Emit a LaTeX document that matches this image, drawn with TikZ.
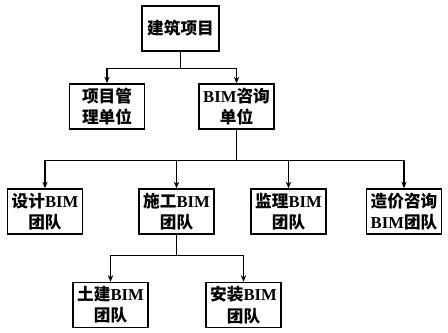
\documentclass[tikz,border=0pt]{standalone}
\usepackage{fontspec}
\setmainfont{Liberation Serif}
\newfontfamily\cjk{Noto Sans CJK SC}
\usetikzlibrary{arrows.meta}
\newcommand\zh[1]{{\cjk #1}}

\tikzset{
    unit/.style={rectangle, draw, line width=1pt, minimum width=56.25pt, minimum height=33.75pt,
        align=center, inner sep=1pt, font=\fontsize{12.5}{16}\selectfont\bfseries},
    link/.style={line width=1pt, -{Stealth[length=5pt,width=4pt]}}
}

\begin{document}
\begin{tikzpicture}[x=0.75pt, y=-0.75pt]
    \useasboundingbox (0,0) rectangle (448,332);
    \node[unit, minimum width=57.75pt] (project) at (180.5,28.5) {\zh{建筑项目}};
    \node[unit] (manage) at (107,106.5) {\zh{项目管}\\\zh{理单位}};
    \node[unit] (consult) at (236.5,106.5) {BIM\zh{咨询}\\\zh{单位}};

    \node[unit] (design) at (45,211.5) {\zh{设计}BIM\\\zh{团队}};
    \node[unit] (build) at (176.5,211.5) {\zh{施工}BIM\\\zh{团队}};
    \node[unit] (supervise) at (288.5,211.5) {\zh{监理}BIM\\\zh{团队}};
    \node[unit] (cost) at (404,211.5) {\zh{造价咨询}\\BIM\zh{团队}};

    \node[unit] (civil) at (110.5,305) {\zh{土建}BIM\\\zh{团队}};
    \node[unit] (install) at (243.5,305) {\zh{安装}BIM\\\zh{团队}};

    \draw[link] (project.south) -- ++(0,17) -| (manage.north);
    \draw[link] (project.south) -- ++(0,17) -| (consult.north);

    \draw[link] (consult.south) -- ++(0,31) -| (design.north);
    \draw[link] (consult.south) -- ++(0,31) -| (build.north);
    \draw[link] (consult.south) -- ++(0,31) -| (supervise.north);
    \draw[link] (consult.south) -- ++(0,31) -| (cost.north);

    \draw[link] (build.south) -- ++(0,21) -| (civil.north);
    \draw[link] (build.south) -- ++(0,21) -| (install.north);
\end{tikzpicture}
\end{document}
